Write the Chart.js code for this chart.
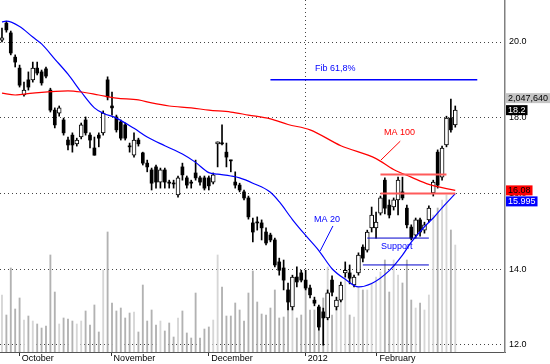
<!DOCTYPE html>
<html><head><meta charset="utf-8">
<script src="https://cdn.jsdelivr.net/npm/chart.js@4.4.1/dist/chart.umd.min.js"></script>
<style>html,body{margin:0;padding:0;background:#fff;overflow:hidden}canvas{display:block}</style>
</head><body>
<canvas id="c" width="550" height="364"></canvas>
<script>
// ---- data ----
const opens = [20.05,20.50,20.24,19.60,19.31,18.60,19.00,19.00,19.31,19.21,
 19.29,18.73,18.20,18.12,17.94,17.41,17.54,17.31,17.49,17.94,
 17.54,17.20,17.54,17.60,19.00,18.31,18.02,17.89,17.81,17.25,
 17.01,17.41,17.07,16.80,16.62,16.70,16.30,16.62,16.30,16.27,
 15.96,16.70,16.41,16.30,16.54,16.41,16.41,16.41,16.30,17.31,
 17.33,17.09,16.88,16.30,16.22,16.04,15.88,15.22,15.24,15.22,
 14.98,14.90,14.77,14.19,14.03,13.45,13.00,13.79,13.90,13.71,
 13.50,13.18,13.00,12.87,12.71,13.71,13.00,13.18,13.90,13.90,
 13.58,13.90,14.58,14.50,15.09,15.09,15.48,16.35,15.69,15.64,
 15.83,16.04,15.61,15.11,14.90,15.30,15.03,15.30,16.01,17.09,
 16.43,17.28,17.99,17.81];
const highs = [20.37,20.55,20.29,19.66,19.39,18.94,19.21,19.47,19.47,19.26,
 19.34,18.78,18.26,18.31,17.99,17.49,17.60,17.46,17.86,18.02,
 17.60,17.49,17.60,18.18,19.08,18.68,18.07,17.94,17.86,17.33,
 17.60,17.46,17.09,16.88,16.67,16.75,16.67,16.67,16.35,16.35,
 16.46,16.80,16.46,16.35,16.88,16.46,16.46,16.46,16.54,17.36,
 17.81,17.33,16.88,16.57,16.27,16.09,15.93,15.35,15.38,15.30,
 15.09,14.95,14.82,14.29,14.24,13.63,13.84,14.06,13.97,13.97,
 13.58,13.26,13.05,12.97,13.45,13.82,13.26,13.66,14.19,14.11,
 13.84,14.43,14.64,15.03,15.64,15.51,15.93,16.41,15.83,15.88,
 16.43,16.43,15.69,15.17,15.35,15.35,15.24,15.67,16.35,17.15,
 17.25,18.04,18.49,18.31];
const lows = [20.00,20.26,19.66,19.34,18.81,18.57,18.73,18.94,19.13,18.86,
 19.05,18.15,17.73,18.04,17.54,17.15,17.09,17.25,17.44,17.54,
 17.20,17.01,17.23,17.54,18.47,18.07,17.62,17.41,17.41,17.09,
 16.96,17.25,16.75,16.57,16.09,16.14,16.14,16.14,16.14,16.14,
 15.90,16.35,16.14,16.14,16.35,16.22,16.09,16.09,16.25,16.70,
 17.28,16.70,16.57,16.14,16.04,15.83,15.32,14.72,15.03,14.77,
 14.64,14.72,14.06,13.84,13.45,12.92,12.92,13.53,13.66,13.45,
 13.24,13.03,12.39,11.99,12.66,13.29,12.92,13.13,13.79,13.61,
 13.53,13.84,14.19,14.45,14.98,14.82,15.43,15.46,15.35,15.56,
 15.43,15.83,15.09,14.77,14.82,14.87,14.95,15.24,15.93,16.14,
 16.35,17.23,17.62,17.75];
const closes = [20.11,20.32,19.71,19.47,18.86,18.73,18.81,19.31,19.18,18.92,
 19.10,18.20,17.81,18.26,17.60,17.28,17.28,17.41,17.81,17.60,
 17.41,17.01,17.46,18.12,18.55,18.26,17.68,17.46,17.46,17.23,
 17.41,17.31,16.80,16.70,16.27,16.30,16.62,16.30,16.27,16.25,
 16.41,16.49,16.22,16.27,16.41,16.30,16.14,16.20,16.49,17.33,
 17.31,16.96,16.86,16.22,16.09,15.88,15.38,14.98,15.22,15.09,
 14.69,14.77,14.11,13.97,13.71,13.13,13.79,13.66,13.71,13.50,
 13.32,13.10,12.47,12.71,13.37,13.39,13.18,13.58,13.97,13.76,
 13.79,14.37,14.29,14.98,15.43,15.24,15.88,15.61,15.43,15.83,
 16.35,15.88,15.17,14.82,15.30,14.98,15.17,15.61,16.30,16.22,
 17.20,17.99,17.68,18.20];
// volume in thousands of shares
const volumesK = [1091,708,1608,823,1034,612,689,593,536,459,
 498,1857,1148,536,651,632,593,536,593,785,
 517,900,383,1569,2297,938,785,842,651,746,
 766,383,1282,593,804,517,593,402,555,287,
 651,785,364,268,1129,268,440,479,612,1857,
 1244,689,689,938,804,593,1129,1550,957,727,
 708,842,1187,651,670,957,842,651,708,1321,
 804,804,651,1034,1627,708,842,1187,1436,708,
 670,1244,1187,1187,1321,1436,1531,1761,1148,1761,
 1474,1321,1761,995,842,938,804,1091,2622,2756,
 2909,3005,2335,2047.64];
const ma20Bars = [0,1,4,7,9,12,15,18,21,23,26,30,33,37,41,44,47,49,52,54,57,61,63,66,69,72,75,78,81,84,88,91,93,96,98,100,103];
const ma20Vals = [20.53,20.55,20.41,20.13,19.95,19.55,19.15,18.68,18.26,18.12,17.99,17.72,17.49,17.26,17.04,16.82,16.55,16.51,16.46,16.41,16.27,16.03,15.78,15.31,14.89,14.49,14.01,13.73,13.53,13.62,13.96,14.37,14.71,15.12,15.35,15.62,15.995];
const ma100Bars = [0,3,7,15,18,22,26,31,34,38,43,47,52,56,61,65,70,77,85,89,93,97,103];
const ma100Vals = [18.65,18.60,18.65,18.71,18.68,18.60,18.52,18.47,18.39,18.31,18.26,18.20,18.15,18.07,17.97,17.82,17.68,17.26,16.92,16.63,16.43,16.24,16.08];
const monthTickBars = [3.9,24.8,47.0,68.9,85.2];
const monthLabels = ['October','November','December','2012','February'];
const priceTicks = [12,14,16,18,20];
// drawn annotations (bar index / price)
const fibLine = {from:61, to:108, level:19.0};
const resistLevels = [16.5, 16.0], resistFrom = [86, 86], resistTo = [101, 103];
const supportLevels = [14.82, 14.11], supportFrom = [83, 82], supportTo = [97, 97];
const ma20Leader = [[75.2,15.14],[72.3,14.48]];
const ma100Leader = [[90.5,17.38],[86.1,16.88]];
const textNotes = [
  {text:'Fib 61,8%', bar:71.1, price:19.31, color:'#0000ff'},
  {text:'MA 20', bar:70.9, price:15.32, color:'#0000ff'},
  {text:'MA 100', bar:86.8, price:17.60, color:'#ff0000'},
  {text:'Support', bar:86.1, price:14.61, color:'#0000ff'}
];

// ---- build ----
const FONT = "'Liberation Sans', Arial, sans-serif";
const idx = opens.map((_, i) => i);
const isUp = i => closes[i] >= opens[i];
const wickData = idx.map(i => ({x:i, y:[lows[i], highs[i]]}));
const upBody = idx.filter(isUp).map(i => ({x:i, y:[opens[i], closes[i]]}));
const downBody = idx.filter(i => !isUp(i)).map(i => ({x:i, y:[closes[i], opens[i]]}));
const volData = idx.map(i => ({x:i, y:volumesK[i]}));
const pts = (bars, vals) => bars.map((b,k) => ({x:b, y:vals[k]}));
const hline = (a, b, lvl) => [{x:a, y:lvl}, {x:b, y:lvl}];
const seg = arr => arr.map(p => ({x:p[0], y:p[1]}));

const lineDs = (data, color, width, order, extra) => Object.assign({
  type:'line', data, borderColor:color, borderWidth:width, pointRadius:0,
  fill:false, tension:0, order, yAxisID:'y'
}, extra || {});

const datasets = [
  {type:'bar', data:volData, yAxisID:'yv', barThickness:1.2, grouped:false, order:9,
   backgroundColor: c => isUp(c.dataIndex) ? '#d6d6d6' : '#b2b2b2'},
  {type:'bar', data:wickData, yAxisID:'y', barThickness:1, grouped:false, order:8,
   backgroundColor:'#000'},
  {type:'bar', data:downBody, yAxisID:'y', barThickness:3, grouped:false, order:7,
   backgroundColor:'#000', borderColor:'#000', borderWidth:0, minBarLength:1},
  {type:'bar', data:upBody, yAxisID:'y', barThickness:4, grouped:false, order:7,
   backgroundColor:'#fff', borderColor:'#000', borderWidth:1, borderSkipped:false, minBarLength:2},
  lineDs(pts(ma100Bars, ma100Vals), '#ff0000', 1.2, 3, {cubicInterpolationMode:'monotone'}),
  lineDs(pts(ma20Bars, ma20Vals), '#0000ff', 1.2, 3, {cubicInterpolationMode:'monotone'}),
  lineDs(hline(fibLine.from, fibLine.to, fibLine.level), '#0000ff', 1.5, 1),
  lineDs(hline(resistFrom[0], resistTo[0], resistLevels[0]), '#ff5a5a', 2, 1),
  lineDs(hline(resistFrom[1], resistTo[1], resistLevels[1]), '#ff5a5a', 2, 1),
  lineDs(hline(supportFrom[0], supportTo[0], supportLevels[0]), '#0000cc', 1, 1),
  lineDs(hline(supportFrom[1], supportTo[1], supportLevels[1]), '#0000cc', 1, 1),
  lineDs(seg(ma20Leader), '#0000ff', 1, 1),
  lineDs(seg(ma100Leader), '#ff0000', 1, 1)
];

const notesPlugin = {
  id:'notes',
  afterDatasetsDraw(chart) {
    const {ctx, scales:{x, y}} = chart;
    ctx.save();
    ctx.font = '9px ' + FONT;
    ctx.textAlign = 'left'; ctx.textBaseline = 'middle';
    textNotes.forEach(n => {
      ctx.fillStyle = n.color;
      ctx.fillText(n.text, x.getPixelForValue(n.bar), y.getPixelForValue(n.price));
    });
    ctx.restore();
  },
  afterDraw(chart) {
    const {ctx, scales:{y}} = chart;
    const x0 = y.left + 1;
    ctx.save();
    ctx.font = '9px ' + FONT;
    ctx.textAlign = 'left'; ctx.textBaseline = 'middle';
    const box = (text, top, bg, fg) => {
      const w = ctx.measureText(text).width + 4, h = 10;
      ctx.fillStyle = bg; ctx.fillRect(x0, top, w, h);
      ctx.fillStyle = fg; ctx.fillText(text, x0 + 2, top + h/2 + 0.5);
      return top + h;
    };
    const lastClose = closes[closes.length-1];
    const closeTop = y.getPixelForValue(lastClose) - 5;
    box(lastClose.toFixed(1), closeTop, '#000', '#fff');
    const volText = Math.round(volumesK[volumesK.length-1]*1000).toLocaleString('en-US');
    box(volText, closeTop - 12, '#c4c4c4', '#000');
    const m100 = ma100Vals[ma100Vals.length-1], m20 = ma20Vals[ma20Vals.length-1];
    const b1 = box(m100.toFixed(2), y.getPixelForValue(m100) - 5, '#ff0000', '#000');
    box(m20.toFixed(3), b1 + 1, '#0000ff', '#fff');
    ctx.restore();
  }
};

new Chart(document.getElementById('c'), {
  type:'bar',
  data:{datasets},
  options:{
    responsive:false, animation:false, devicePixelRatio:1,
    layout:{padding:0},
    plugins:{legend:{display:false}, tooltip:{enabled:false}},
    scales:{
      x:{type:'linear', min:-0.45, max:114.3, offset:false,
        grid:{offset:false, drawTicks:true, tickLength:4, tickColor:'#333', lineWidth:1,
          color: c => (c.index === 3 ? '#444' : 'rgba(0,0,0,0)')},
        border:{display:true, color:'#555', width:1, dash:[1,3]},
        ticks:{autoSkip:false, maxRotation:0, minRotation:0, align:'start', padding:-3, color:'#000',
          font:{family:FONT, size:9}, callback:(v, i) => ' ' + monthLabels[i]},
        afterBuildTicks: s => { s.ticks = monthTickBars.map(v => ({value:v})); },
        afterFit: s => { s.height = 12; s.paddingLeft = 0; s.paddingRight = 0; }
      },
      y:{type:'linear', position:'right', min:11.81, max:21.11,
        grid:{color:'#444', drawTicks:false, lineWidth:1},
        border:{display:true, color:'#808080', width:1.5, dash:[1,3]},
        ticks:{padding:4, color:'#000', font:{family:FONT, size:9}, callback:v => Number(v).toFixed(1)},
        afterBuildTicks: s => { s.ticks = priceTicks.map(v => ({value:v})); },
        afterFit: s => { s.width = 45; s.paddingTop = 0; s.paddingBottom = 0; }
      },
      yv:{type:'linear', display:false, min:0, max:6737}
    }
  },
  plugins:[notesPlugin]
});
</script>
</body></html>
